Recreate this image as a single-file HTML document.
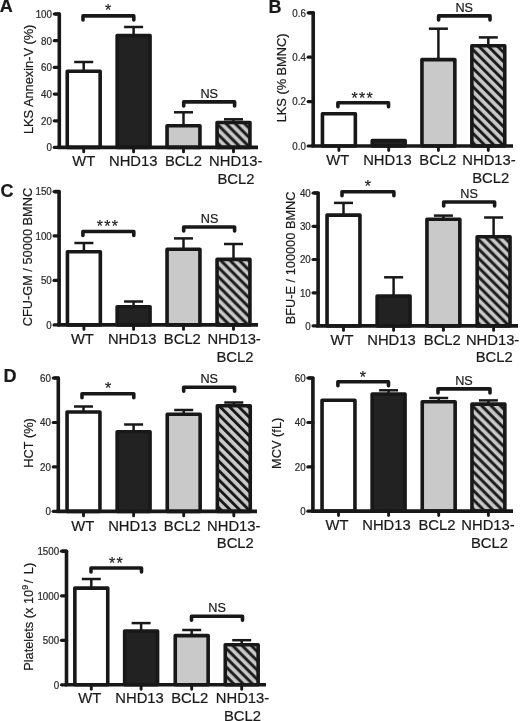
<!DOCTYPE html>
<html><head><meta charset="utf-8"><style>
html,body{margin:0;padding:0;background:#fff;}
svg{display:block;filter:grayscale(1);}
text{font-family:"Liberation Sans",sans-serif;fill:#1a1a1a;stroke:#1a1a1a;stroke-width:0.2px;}
text.t{fill:#2a2a2a;stroke:#2a2a2a;}
</style></head><body>
<svg width="520" height="721" viewBox="0 0 520 721">
<defs>
<pattern id="h1" patternUnits="userSpaceOnUse" width="6.576" height="6.576" patternTransform="rotate(-45)">
<rect width="6.576" height="6.576" fill="#c9c9c9"/><rect x="5.197" y="0" width="2.9" height="6.576" fill="#181818"/><rect x="-1.379" y="0" width="2.9" height="6.576" fill="#181818"/></pattern>
<pattern id="h2" patternUnits="userSpaceOnUse" width="6.576" height="6.576" patternTransform="rotate(-45)">
<rect width="6.576" height="6.576" fill="#c9c9c9"/><rect x="1.979" y="0" width="2.9" height="6.576" fill="#181818"/></pattern>
<pattern id="h3" patternUnits="userSpaceOnUse" width="6.576" height="6.576" patternTransform="rotate(-45)">
<rect width="6.576" height="6.576" fill="#c9c9c9"/><rect x="3.358" y="0" width="2.9" height="6.576" fill="#181818"/></pattern>
<pattern id="h4" patternUnits="userSpaceOnUse" width="6.576" height="6.576" patternTransform="rotate(-45)">
<rect width="6.576" height="6.576" fill="#c9c9c9"/><rect x="3.146" y="0" width="2.9" height="6.576" fill="#181818"/></pattern>
<pattern id="h5" patternUnits="userSpaceOnUse" width="6.576" height="6.576" patternTransform="rotate(-45)">
<rect width="6.576" height="6.576" fill="#c9c9c9"/><rect x="4.702" y="0" width="2.9" height="6.576" fill="#181818"/><rect x="-1.874" y="0" width="2.9" height="6.576" fill="#181818"/></pattern>
<pattern id="h6" patternUnits="userSpaceOnUse" width="6.576" height="6.576" patternTransform="rotate(-45)">
<rect width="6.576" height="6.576" fill="#c9c9c9"/><rect x="6.222" y="0" width="2.9" height="6.576" fill="#181818"/><rect x="-0.354" y="0" width="2.9" height="6.576" fill="#181818"/></pattern>
<pattern id="h7" patternUnits="userSpaceOnUse" width="6.576" height="6.576" patternTransform="rotate(-45)">
<rect width="6.576" height="6.576" fill="#c9c9c9"/><rect x="2.510" y="0" width="2.9" height="6.576" fill="#181818"/></pattern>
</defs>
<rect width="520" height="721" fill="#fff"/>
<path d="M54.80,14.00 H59.30 V147.40" fill="none" stroke="#181818" stroke-width="3.6" stroke-linejoin="round"/>
<line x1="54.30" y1="14.00" x2="59.30" y2="14.00" stroke="#181818" stroke-width="3.24" stroke-linecap="round"/>
<text transform="translate(52.00,17.80) scale(1,1.04)" font-size="9.8" text-anchor="end" class="t">100</text>
<line x1="54.30" y1="40.70" x2="59.30" y2="40.70" stroke="#181818" stroke-width="3.24" stroke-linecap="round"/>
<text transform="translate(52.00,44.50) scale(1,1.04)" font-size="9.8" text-anchor="end" class="t">80</text>
<line x1="54.30" y1="67.40" x2="59.30" y2="67.40" stroke="#181818" stroke-width="3.24" stroke-linecap="round"/>
<text transform="translate(52.00,71.20) scale(1,1.04)" font-size="9.8" text-anchor="end" class="t">60</text>
<line x1="54.30" y1="94.10" x2="59.30" y2="94.10" stroke="#181818" stroke-width="3.24" stroke-linecap="round"/>
<text transform="translate(52.00,97.90) scale(1,1.04)" font-size="9.8" text-anchor="end" class="t">40</text>
<line x1="54.30" y1="120.80" x2="59.30" y2="120.80" stroke="#181818" stroke-width="3.24" stroke-linecap="round"/>
<text transform="translate(52.00,124.60) scale(1,1.04)" font-size="9.8" text-anchor="end" class="t">20</text>
<line x1="54.30" y1="147.40" x2="59.30" y2="147.40" stroke="#181818" stroke-width="3.24" stroke-linecap="round"/>
<text transform="translate(52.00,151.20) scale(1,1.04)" font-size="9.8" text-anchor="end" class="t">0</text>
<line x1="83.70" y1="62.00" x2="83.70" y2="70.50" stroke="#181818" stroke-width="2.5"/>
<line x1="74.20" y1="62.00" x2="93.20" y2="62.00" stroke="#181818" stroke-width="2.5"/>
<rect x="67.25" y="71.30" width="32.90" height="76.10" fill="#ffffff" stroke="#181818" stroke-width="3.6" stroke-linejoin="round"/>
<line x1="133.60" y1="27.00" x2="133.60" y2="34.80" stroke="#181818" stroke-width="2.5"/>
<line x1="124.10" y1="27.00" x2="143.10" y2="27.00" stroke="#181818" stroke-width="2.5"/>
<rect x="117.15" y="35.60" width="32.90" height="111.80" fill="#222222" stroke="#181818" stroke-width="3.6" stroke-linejoin="round"/>
<line x1="183.50" y1="112.30" x2="183.50" y2="125.00" stroke="#181818" stroke-width="2.5"/>
<line x1="174.00" y1="112.30" x2="193.00" y2="112.30" stroke="#181818" stroke-width="2.5"/>
<rect x="167.05" y="125.80" width="32.90" height="21.60" fill="#c9c9c9" stroke="#181818" stroke-width="3.6" stroke-linejoin="round"/>
<line x1="233.50" y1="119.30" x2="233.50" y2="121.70" stroke="#181818" stroke-width="2.5"/>
<line x1="224.00" y1="119.30" x2="243.00" y2="119.30" stroke="#181818" stroke-width="2.5"/>
<rect x="217.05" y="122.50" width="32.90" height="24.90" fill="url(#h1)" stroke="#181818" stroke-width="3.6" stroke-linejoin="round"/>
<line x1="57.50" y1="147.40" x2="258.00" y2="147.40" stroke="#181818" stroke-width="3.6"/>
<line x1="83.70" y1="147.40" x2="83.70" y2="151.90" stroke="#181818" stroke-width="2.88" stroke-linecap="round"/>
<line x1="133.60" y1="147.40" x2="133.60" y2="151.90" stroke="#181818" stroke-width="2.88" stroke-linecap="round"/>
<line x1="183.50" y1="147.40" x2="183.50" y2="151.90" stroke="#181818" stroke-width="2.88" stroke-linecap="round"/>
<line x1="233.50" y1="147.40" x2="233.50" y2="151.90" stroke="#181818" stroke-width="2.88" stroke-linecap="round"/>
<text transform="translate(83.70,166.49) scale(1,1.04)" font-size="14.8" text-anchor="middle">WT</text>
<text transform="translate(133.20,166.49) scale(1,1.04)" font-size="14.8" text-anchor="middle">NHD13</text>
<text transform="translate(183.50,166.49) scale(1,1.04)" font-size="14.8" text-anchor="middle">BCL2</text>
<text transform="translate(235.80,166.49) scale(1,1.04)" font-size="14.8" text-anchor="middle">NHD13-</text>
<text transform="translate(236.00,184.09) scale(1,1.04)" font-size="14.8" text-anchor="middle">BCL2</text>
<path d="M83.00,19.90 V15.90 H133.80 V19.90" fill="none" stroke="#181818" stroke-width="3.6" stroke-linejoin="round" stroke-linecap="round"/>
<text transform="translate(108.00,16.04)" font-size="16.0" text-anchor="middle">*</text>
<path d="M183.70,105.90 V101.90 H234.60 V105.90" fill="none" stroke="#181818" stroke-width="3.6" stroke-linejoin="round" stroke-linecap="round"/>
<text transform="translate(209.20,97.69) scale(1,1.04)" font-size="12.7" text-anchor="middle">NS</text>
<text transform="translate(33.40,79.35) rotate(-90) scale(1,1.04)" font-size="12.8" text-anchor="middle">LKS Annexin-V (%)</text>
<path d="M308.70,12.80 H313.20 V146.00" fill="none" stroke="#181818" stroke-width="3.6" stroke-linejoin="round"/>
<line x1="308.20" y1="12.80" x2="313.20" y2="12.80" stroke="#181818" stroke-width="3.24" stroke-linecap="round"/>
<text transform="translate(305.90,16.60) scale(1,1.04)" font-size="9.8" text-anchor="end" class="t">0.6</text>
<line x1="308.20" y1="57.20" x2="313.20" y2="57.20" stroke="#181818" stroke-width="3.24" stroke-linecap="round"/>
<text transform="translate(305.90,61.00) scale(1,1.04)" font-size="9.8" text-anchor="end" class="t">0.4</text>
<line x1="308.20" y1="101.60" x2="313.20" y2="101.60" stroke="#181818" stroke-width="3.24" stroke-linecap="round"/>
<text transform="translate(305.90,105.40) scale(1,1.04)" font-size="9.8" text-anchor="end" class="t">0.2</text>
<line x1="308.20" y1="146.00" x2="313.20" y2="146.00" stroke="#181818" stroke-width="3.24" stroke-linecap="round"/>
<text transform="translate(305.90,149.80) scale(1,1.04)" font-size="9.8" text-anchor="end" class="t">0.0</text>
<rect x="322.45" y="113.80" width="32.90" height="32.20" fill="#ffffff" stroke="#181818" stroke-width="3.6" stroke-linejoin="round"/>
<rect x="372.25" y="140.50" width="32.90" height="5.50" fill="#222222" stroke="#181818" stroke-width="3.6" stroke-linejoin="round"/>
<line x1="438.40" y1="28.70" x2="438.40" y2="58.80" stroke="#181818" stroke-width="2.5"/>
<line x1="428.90" y1="28.70" x2="447.90" y2="28.70" stroke="#181818" stroke-width="2.5"/>
<rect x="421.95" y="59.60" width="32.90" height="86.40" fill="#c9c9c9" stroke="#181818" stroke-width="3.6" stroke-linejoin="round"/>
<line x1="488.30" y1="37.40" x2="488.30" y2="45.00" stroke="#181818" stroke-width="2.5"/>
<line x1="478.80" y1="37.40" x2="497.80" y2="37.40" stroke="#181818" stroke-width="2.5"/>
<rect x="471.85" y="45.80" width="32.90" height="100.20" fill="url(#h2)" stroke="#181818" stroke-width="3.6" stroke-linejoin="round"/>
<line x1="311.40" y1="146.00" x2="513.00" y2="146.00" stroke="#181818" stroke-width="3.6"/>
<line x1="338.90" y1="146.00" x2="338.90" y2="150.50" stroke="#181818" stroke-width="2.88" stroke-linecap="round"/>
<line x1="388.70" y1="146.00" x2="388.70" y2="150.50" stroke="#181818" stroke-width="2.88" stroke-linecap="round"/>
<line x1="438.40" y1="146.00" x2="438.40" y2="150.50" stroke="#181818" stroke-width="2.88" stroke-linecap="round"/>
<line x1="488.30" y1="146.00" x2="488.30" y2="150.50" stroke="#181818" stroke-width="2.88" stroke-linecap="round"/>
<text transform="translate(337.80,165.39) scale(1,1.04)" font-size="14.8" text-anchor="middle">WT</text>
<text transform="translate(387.40,165.39) scale(1,1.04)" font-size="14.8" text-anchor="middle">NHD13</text>
<text transform="translate(437.85,165.39) scale(1,1.04)" font-size="14.8" text-anchor="middle">BCL2</text>
<text transform="translate(489.00,165.39) scale(1,1.04)" font-size="14.8" text-anchor="middle">NHD13-</text>
<text transform="translate(490.75,182.99) scale(1,1.04)" font-size="14.8" text-anchor="middle">BCL2</text>
<path d="M337.90,106.75 V102.75 H388.50 V106.75" fill="none" stroke="#181818" stroke-width="3.6" stroke-linejoin="round" stroke-linecap="round"/>
<text transform="translate(354.68,103.74)" font-size="16.0" text-anchor="middle">*</text>
<text transform="translate(362.10,103.74)" font-size="16.0" text-anchor="middle">*</text>
<text transform="translate(369.52,103.74)" font-size="16.0" text-anchor="middle">*</text>
<path d="M438.60,19.90 V15.90 H490.00 V19.90" fill="none" stroke="#181818" stroke-width="3.6" stroke-linejoin="round" stroke-linecap="round"/>
<text transform="translate(464.20,12.29) scale(1,1.04)" font-size="12.7" text-anchor="middle">NS</text>
<text transform="translate(286.10,77.90) rotate(-90) scale(1,1.04)" font-size="12.8" text-anchor="middle">LKS (% BMNC)</text>
<path d="M54.60,191.60 H59.10 V324.90" fill="none" stroke="#181818" stroke-width="3.6" stroke-linejoin="round"/>
<line x1="54.10" y1="191.60" x2="59.10" y2="191.60" stroke="#181818" stroke-width="3.24" stroke-linecap="round"/>
<text transform="translate(51.80,195.40) scale(1,1.04)" font-size="9.8" text-anchor="end" class="t">150</text>
<line x1="54.10" y1="235.80" x2="59.10" y2="235.80" stroke="#181818" stroke-width="3.24" stroke-linecap="round"/>
<text transform="translate(51.80,239.60) scale(1,1.04)" font-size="9.8" text-anchor="end" class="t">100</text>
<line x1="54.10" y1="280.40" x2="59.10" y2="280.40" stroke="#181818" stroke-width="3.24" stroke-linecap="round"/>
<text transform="translate(51.80,284.20) scale(1,1.04)" font-size="9.8" text-anchor="end" class="t">50</text>
<line x1="54.10" y1="324.90" x2="59.10" y2="324.90" stroke="#181818" stroke-width="3.24" stroke-linecap="round"/>
<text transform="translate(51.80,328.70) scale(1,1.04)" font-size="9.8" text-anchor="end" class="t">0</text>
<line x1="83.90" y1="243.00" x2="83.90" y2="251.00" stroke="#181818" stroke-width="2.5"/>
<line x1="74.40" y1="243.00" x2="93.40" y2="243.00" stroke="#181818" stroke-width="2.5"/>
<rect x="67.45" y="251.80" width="32.90" height="73.10" fill="#ffffff" stroke="#181818" stroke-width="3.6" stroke-linejoin="round"/>
<line x1="133.60" y1="301.50" x2="133.60" y2="306.00" stroke="#181818" stroke-width="2.5"/>
<line x1="124.10" y1="301.50" x2="143.10" y2="301.50" stroke="#181818" stroke-width="2.5"/>
<rect x="117.15" y="306.80" width="32.90" height="18.10" fill="#222222" stroke="#181818" stroke-width="3.6" stroke-linejoin="round"/>
<line x1="183.50" y1="238.40" x2="183.50" y2="248.40" stroke="#181818" stroke-width="2.5"/>
<line x1="174.00" y1="238.40" x2="193.00" y2="238.40" stroke="#181818" stroke-width="2.5"/>
<rect x="167.05" y="249.20" width="32.90" height="75.70" fill="#c9c9c9" stroke="#181818" stroke-width="3.6" stroke-linejoin="round"/>
<line x1="233.50" y1="244.00" x2="233.50" y2="258.60" stroke="#181818" stroke-width="2.5"/>
<line x1="224.00" y1="244.00" x2="243.00" y2="244.00" stroke="#181818" stroke-width="2.5"/>
<rect x="217.05" y="259.40" width="32.90" height="65.50" fill="url(#h3)" stroke="#181818" stroke-width="3.6" stroke-linejoin="round"/>
<line x1="57.30" y1="324.90" x2="258.00" y2="324.90" stroke="#181818" stroke-width="3.6"/>
<line x1="83.90" y1="324.90" x2="83.90" y2="329.40" stroke="#181818" stroke-width="2.88" stroke-linecap="round"/>
<line x1="133.60" y1="324.90" x2="133.60" y2="329.40" stroke="#181818" stroke-width="2.88" stroke-linecap="round"/>
<line x1="183.50" y1="324.90" x2="183.50" y2="329.40" stroke="#181818" stroke-width="2.88" stroke-linecap="round"/>
<line x1="233.50" y1="324.90" x2="233.50" y2="329.40" stroke="#181818" stroke-width="2.88" stroke-linecap="round"/>
<text transform="translate(82.40,344.29) scale(1,1.04)" font-size="14.8" text-anchor="middle">WT</text>
<text transform="translate(132.15,344.29) scale(1,1.04)" font-size="14.8" text-anchor="middle">NHD13</text>
<text transform="translate(182.35,344.29) scale(1,1.04)" font-size="14.8" text-anchor="middle">BCL2</text>
<text transform="translate(234.10,344.29) scale(1,1.04)" font-size="14.8" text-anchor="middle">NHD13-</text>
<text transform="translate(235.00,361.89) scale(1,1.04)" font-size="14.8" text-anchor="middle">BCL2</text>
<path d="M82.90,235.50 V231.50 H133.80 V235.50" fill="none" stroke="#181818" stroke-width="3.6" stroke-linejoin="round" stroke-linecap="round"/>
<text transform="translate(99.93,232.14)" font-size="16.0" text-anchor="middle">*</text>
<text transform="translate(107.35,232.14)" font-size="16.0" text-anchor="middle">*</text>
<text transform="translate(114.77,232.14)" font-size="16.0" text-anchor="middle">*</text>
<path d="M183.70,231.05 V227.05 H234.60 V231.05" fill="none" stroke="#181818" stroke-width="3.6" stroke-linejoin="round" stroke-linecap="round"/>
<text transform="translate(209.60,222.69) scale(1,1.04)" font-size="12.7" text-anchor="middle">NS</text>
<text transform="translate(31.60,257.05) rotate(-90) scale(1,1.04)" font-size="12.8" text-anchor="middle">CFU-GM / 50000 BMNC</text>
<path d="M313.60,193.00 H318.10 V325.90" fill="none" stroke="#181818" stroke-width="3.6" stroke-linejoin="round"/>
<line x1="313.10" y1="193.00" x2="318.10" y2="193.00" stroke="#181818" stroke-width="3.24" stroke-linecap="round"/>
<text transform="translate(310.80,196.80) scale(1,1.04)" font-size="9.8" text-anchor="end" class="t">40</text>
<line x1="313.10" y1="226.30" x2="318.10" y2="226.30" stroke="#181818" stroke-width="3.24" stroke-linecap="round"/>
<text transform="translate(310.80,230.10) scale(1,1.04)" font-size="9.8" text-anchor="end" class="t">30</text>
<line x1="313.10" y1="259.50" x2="318.10" y2="259.50" stroke="#181818" stroke-width="3.24" stroke-linecap="round"/>
<text transform="translate(310.80,263.30) scale(1,1.04)" font-size="9.8" text-anchor="end" class="t">20</text>
<line x1="313.10" y1="292.80" x2="318.10" y2="292.80" stroke="#181818" stroke-width="3.24" stroke-linecap="round"/>
<text transform="translate(310.80,296.60) scale(1,1.04)" font-size="9.8" text-anchor="end" class="t">10</text>
<line x1="313.10" y1="325.80" x2="318.10" y2="325.80" stroke="#181818" stroke-width="3.24" stroke-linecap="round"/>
<text transform="translate(310.80,329.60) scale(1,1.04)" font-size="9.8" text-anchor="end" class="t">0</text>
<line x1="343.50" y1="202.90" x2="343.50" y2="214.30" stroke="#181818" stroke-width="2.5"/>
<line x1="334.00" y1="202.90" x2="353.00" y2="202.90" stroke="#181818" stroke-width="2.5"/>
<rect x="327.05" y="215.10" width="32.90" height="110.80" fill="#ffffff" stroke="#181818" stroke-width="3.6" stroke-linejoin="round"/>
<line x1="393.60" y1="277.30" x2="393.60" y2="295.30" stroke="#181818" stroke-width="2.5"/>
<line x1="384.10" y1="277.30" x2="403.10" y2="277.30" stroke="#181818" stroke-width="2.5"/>
<rect x="377.15" y="296.10" width="32.90" height="29.80" fill="#222222" stroke="#181818" stroke-width="3.6" stroke-linejoin="round"/>
<line x1="443.40" y1="215.60" x2="443.40" y2="218.40" stroke="#181818" stroke-width="2.5"/>
<line x1="433.90" y1="215.60" x2="452.90" y2="215.60" stroke="#181818" stroke-width="2.5"/>
<rect x="426.95" y="219.20" width="32.90" height="106.70" fill="#c9c9c9" stroke="#181818" stroke-width="3.6" stroke-linejoin="round"/>
<line x1="493.60" y1="217.50" x2="493.60" y2="236.00" stroke="#181818" stroke-width="2.5"/>
<line x1="484.10" y1="217.50" x2="503.10" y2="217.50" stroke="#181818" stroke-width="2.5"/>
<rect x="477.15" y="236.80" width="32.90" height="89.10" fill="url(#h4)" stroke="#181818" stroke-width="3.6" stroke-linejoin="round"/>
<line x1="316.30" y1="325.90" x2="518.00" y2="325.90" stroke="#181818" stroke-width="3.6"/>
<line x1="343.50" y1="325.90" x2="343.50" y2="330.40" stroke="#181818" stroke-width="2.88" stroke-linecap="round"/>
<line x1="393.60" y1="325.90" x2="393.60" y2="330.40" stroke="#181818" stroke-width="2.88" stroke-linecap="round"/>
<line x1="443.40" y1="325.90" x2="443.40" y2="330.40" stroke="#181818" stroke-width="2.88" stroke-linecap="round"/>
<line x1="493.60" y1="325.90" x2="493.60" y2="330.40" stroke="#181818" stroke-width="2.88" stroke-linecap="round"/>
<text transform="translate(342.00,344.59) scale(1,1.04)" font-size="14.8" text-anchor="middle">WT</text>
<text transform="translate(391.50,344.59) scale(1,1.04)" font-size="14.8" text-anchor="middle">NHD13</text>
<text transform="translate(442.30,344.59) scale(1,1.04)" font-size="14.8" text-anchor="middle">BCL2</text>
<text transform="translate(492.60,344.59) scale(1,1.04)" font-size="14.8" text-anchor="middle">NHD13-</text>
<text transform="translate(494.20,362.19) scale(1,1.04)" font-size="14.8" text-anchor="middle">BCL2</text>
<path d="M342.00,195.70 V191.70 H393.90 V195.70" fill="none" stroke="#181818" stroke-width="3.6" stroke-linejoin="round" stroke-linecap="round"/>
<text transform="translate(367.90,191.54)" font-size="16.0" text-anchor="middle">*</text>
<path d="M443.70,206.00 V202.00 H494.60 V206.00" fill="none" stroke="#181818" stroke-width="3.6" stroke-linejoin="round" stroke-linecap="round"/>
<text transform="translate(469.10,198.29) scale(1,1.04)" font-size="12.7" text-anchor="middle">NS</text>
<text transform="translate(294.70,257.90) rotate(-90) scale(1,1.04)" font-size="12.8" text-anchor="middle">BFU-E / 100000 BMNC</text>
<path d="M53.80,378.00 H58.30 V511.40" fill="none" stroke="#181818" stroke-width="3.6" stroke-linejoin="round"/>
<line x1="53.30" y1="378.00" x2="58.30" y2="378.00" stroke="#181818" stroke-width="3.24" stroke-linecap="round"/>
<text transform="translate(51.00,381.80) scale(1,1.04)" font-size="9.8" text-anchor="end" class="t">60</text>
<line x1="53.30" y1="422.50" x2="58.30" y2="422.50" stroke="#181818" stroke-width="3.24" stroke-linecap="round"/>
<text transform="translate(51.00,426.30) scale(1,1.04)" font-size="9.8" text-anchor="end" class="t">40</text>
<line x1="53.30" y1="466.90" x2="58.30" y2="466.90" stroke="#181818" stroke-width="3.24" stroke-linecap="round"/>
<text transform="translate(51.00,470.70) scale(1,1.04)" font-size="9.8" text-anchor="end" class="t">20</text>
<line x1="53.30" y1="511.30" x2="58.30" y2="511.30" stroke="#181818" stroke-width="3.24" stroke-linecap="round"/>
<text transform="translate(51.00,515.10) scale(1,1.04)" font-size="9.8" text-anchor="end" class="t">0</text>
<line x1="83.50" y1="406.50" x2="83.50" y2="411.20" stroke="#181818" stroke-width="2.5"/>
<line x1="74.00" y1="406.50" x2="93.00" y2="406.50" stroke="#181818" stroke-width="2.5"/>
<rect x="67.05" y="412.00" width="32.90" height="99.40" fill="#ffffff" stroke="#181818" stroke-width="3.6" stroke-linejoin="round"/>
<line x1="133.60" y1="424.50" x2="133.60" y2="431.00" stroke="#181818" stroke-width="2.5"/>
<line x1="124.10" y1="424.50" x2="143.10" y2="424.50" stroke="#181818" stroke-width="2.5"/>
<rect x="117.15" y="431.80" width="32.90" height="79.60" fill="#222222" stroke="#181818" stroke-width="3.6" stroke-linejoin="round"/>
<line x1="183.70" y1="410.00" x2="183.70" y2="413.50" stroke="#181818" stroke-width="2.5"/>
<line x1="174.20" y1="410.00" x2="193.20" y2="410.00" stroke="#181818" stroke-width="2.5"/>
<rect x="167.25" y="414.30" width="32.90" height="97.10" fill="#c9c9c9" stroke="#181818" stroke-width="3.6" stroke-linejoin="round"/>
<line x1="233.80" y1="402.50" x2="233.80" y2="405.00" stroke="#181818" stroke-width="2.5"/>
<line x1="224.30" y1="402.50" x2="243.30" y2="402.50" stroke="#181818" stroke-width="2.5"/>
<rect x="217.35" y="405.80" width="32.90" height="105.60" fill="url(#h5)" stroke="#181818" stroke-width="3.6" stroke-linejoin="round"/>
<line x1="56.50" y1="511.40" x2="257.00" y2="511.40" stroke="#181818" stroke-width="3.6"/>
<line x1="83.50" y1="511.40" x2="83.50" y2="515.90" stroke="#181818" stroke-width="2.88" stroke-linecap="round"/>
<line x1="133.60" y1="511.40" x2="133.60" y2="515.90" stroke="#181818" stroke-width="2.88" stroke-linecap="round"/>
<line x1="183.70" y1="511.40" x2="183.70" y2="515.90" stroke="#181818" stroke-width="2.88" stroke-linecap="round"/>
<line x1="233.80" y1="511.40" x2="233.80" y2="515.90" stroke="#181818" stroke-width="2.88" stroke-linecap="round"/>
<text transform="translate(82.70,530.59) scale(1,1.04)" font-size="14.8" text-anchor="middle">WT</text>
<text transform="translate(132.40,530.59) scale(1,1.04)" font-size="14.8" text-anchor="middle">NHD13</text>
<text transform="translate(182.35,530.59) scale(1,1.04)" font-size="14.8" text-anchor="middle">BCL2</text>
<text transform="translate(233.80,530.59) scale(1,1.04)" font-size="14.8" text-anchor="middle">NHD13-</text>
<text transform="translate(235.30,548.19) scale(1,1.04)" font-size="14.8" text-anchor="middle">BCL2</text>
<path d="M82.00,397.80 V393.80 H133.80 V397.80" fill="none" stroke="#181818" stroke-width="3.6" stroke-linejoin="round" stroke-linecap="round"/>
<text transform="translate(108.10,394.04)" font-size="16.0" text-anchor="middle">*</text>
<path d="M183.70,391.20 V387.20 H234.60 V391.20" fill="none" stroke="#181818" stroke-width="3.6" stroke-linejoin="round" stroke-linecap="round"/>
<text transform="translate(209.20,383.49) scale(1,1.04)" font-size="12.7" text-anchor="middle">NS</text>
<text transform="translate(32.90,442.90) rotate(-90) scale(1,1.04)" font-size="12.8" text-anchor="middle">HCT (%)</text>
<path d="M308.40,378.00 H312.90 V511.10" fill="none" stroke="#181818" stroke-width="3.6" stroke-linejoin="round"/>
<line x1="307.90" y1="378.00" x2="312.90" y2="378.00" stroke="#181818" stroke-width="3.24" stroke-linecap="round"/>
<text transform="translate(305.60,381.80) scale(1,1.04)" font-size="9.8" text-anchor="end" class="t">60</text>
<line x1="307.90" y1="422.50" x2="312.90" y2="422.50" stroke="#181818" stroke-width="3.24" stroke-linecap="round"/>
<text transform="translate(305.60,426.30) scale(1,1.04)" font-size="9.8" text-anchor="end" class="t">40</text>
<line x1="307.90" y1="466.90" x2="312.90" y2="466.90" stroke="#181818" stroke-width="3.24" stroke-linecap="round"/>
<text transform="translate(305.60,470.70) scale(1,1.04)" font-size="9.8" text-anchor="end" class="t">20</text>
<line x1="307.90" y1="511.20" x2="312.90" y2="511.20" stroke="#181818" stroke-width="3.24" stroke-linecap="round"/>
<text transform="translate(305.60,515.00) scale(1,1.04)" font-size="9.8" text-anchor="end" class="t">0</text>
<rect x="322.05" y="400.30" width="32.90" height="110.80" fill="#ffffff" stroke="#181818" stroke-width="3.6" stroke-linejoin="round"/>
<line x1="388.60" y1="390.30" x2="388.60" y2="393.30" stroke="#181818" stroke-width="2.5"/>
<line x1="379.10" y1="390.30" x2="398.10" y2="390.30" stroke="#181818" stroke-width="2.5"/>
<rect x="372.15" y="394.10" width="32.90" height="117.00" fill="#222222" stroke="#181818" stroke-width="3.6" stroke-linejoin="round"/>
<line x1="438.70" y1="398.00" x2="438.70" y2="401.00" stroke="#181818" stroke-width="2.5"/>
<line x1="429.20" y1="398.00" x2="448.20" y2="398.00" stroke="#181818" stroke-width="2.5"/>
<rect x="422.25" y="401.80" width="32.90" height="109.30" fill="#c9c9c9" stroke="#181818" stroke-width="3.6" stroke-linejoin="round"/>
<line x1="488.40" y1="400.40" x2="488.40" y2="403.30" stroke="#181818" stroke-width="2.5"/>
<line x1="478.90" y1="400.40" x2="497.90" y2="400.40" stroke="#181818" stroke-width="2.5"/>
<rect x="471.95" y="404.10" width="32.90" height="107.00" fill="url(#h6)" stroke="#181818" stroke-width="3.6" stroke-linejoin="round"/>
<line x1="311.10" y1="511.10" x2="513.00" y2="511.10" stroke="#181818" stroke-width="3.6"/>
<line x1="338.50" y1="511.10" x2="338.50" y2="515.60" stroke="#181818" stroke-width="2.88" stroke-linecap="round"/>
<line x1="388.60" y1="511.10" x2="388.60" y2="515.60" stroke="#181818" stroke-width="2.88" stroke-linecap="round"/>
<line x1="438.70" y1="511.10" x2="438.70" y2="515.60" stroke="#181818" stroke-width="2.88" stroke-linecap="round"/>
<line x1="488.40" y1="511.10" x2="488.40" y2="515.60" stroke="#181818" stroke-width="2.88" stroke-linecap="round"/>
<text transform="translate(337.10,530.19) scale(1,1.04)" font-size="14.8" text-anchor="middle">WT</text>
<text transform="translate(386.50,530.19) scale(1,1.04)" font-size="14.8" text-anchor="middle">NHD13</text>
<text transform="translate(436.90,530.19) scale(1,1.04)" font-size="14.8" text-anchor="middle">BCL2</text>
<text transform="translate(488.00,530.19) scale(1,1.04)" font-size="14.8" text-anchor="middle">NHD13-</text>
<text transform="translate(489.45,547.79) scale(1,1.04)" font-size="14.8" text-anchor="middle">BCL2</text>
<path d="M337.90,385.80 V381.80 H388.50 V385.80" fill="none" stroke="#181818" stroke-width="3.6" stroke-linejoin="round" stroke-linecap="round"/>
<text transform="translate(362.90,382.84)" font-size="16.0" text-anchor="middle">*</text>
<path d="M438.00,392.90 V388.90 H490.00 V392.90" fill="none" stroke="#181818" stroke-width="3.6" stroke-linejoin="round" stroke-linecap="round"/>
<text transform="translate(464.00,384.89) scale(1,1.04)" font-size="12.7" text-anchor="middle">NS</text>
<text transform="translate(280.50,443.30) rotate(-90) scale(1,1.04)" font-size="12.8" text-anchor="middle">MCV (fL)</text>
<path d="M62.00,551.20 H66.50 V684.80" fill="none" stroke="#181818" stroke-width="3.6" stroke-linejoin="round"/>
<line x1="61.50" y1="551.20" x2="66.50" y2="551.20" stroke="#181818" stroke-width="3.24" stroke-linecap="round"/>
<text transform="translate(59.20,555.00) scale(1,1.04)" font-size="9.8" text-anchor="end" class="t">1500</text>
<line x1="61.50" y1="595.80" x2="66.50" y2="595.80" stroke="#181818" stroke-width="3.24" stroke-linecap="round"/>
<text transform="translate(59.20,599.60) scale(1,1.04)" font-size="9.8" text-anchor="end" class="t">1000</text>
<line x1="61.50" y1="640.30" x2="66.50" y2="640.30" stroke="#181818" stroke-width="3.24" stroke-linecap="round"/>
<text transform="translate(59.20,644.10) scale(1,1.04)" font-size="9.8" text-anchor="end" class="t">500</text>
<line x1="61.50" y1="684.80" x2="66.50" y2="684.80" stroke="#181818" stroke-width="3.24" stroke-linecap="round"/>
<text transform="translate(59.20,688.60) scale(1,1.04)" font-size="9.8" text-anchor="end" class="t">0</text>
<line x1="91.30" y1="579.00" x2="91.30" y2="587.30" stroke="#181818" stroke-width="2.5"/>
<line x1="81.80" y1="579.00" x2="100.80" y2="579.00" stroke="#181818" stroke-width="2.5"/>
<rect x="74.85" y="588.10" width="32.90" height="96.70" fill="#ffffff" stroke="#181818" stroke-width="3.6" stroke-linejoin="round"/>
<line x1="141.10" y1="623.10" x2="141.10" y2="630.20" stroke="#181818" stroke-width="2.5"/>
<line x1="131.60" y1="623.10" x2="150.60" y2="623.10" stroke="#181818" stroke-width="2.5"/>
<rect x="124.65" y="631.00" width="32.90" height="53.80" fill="#222222" stroke="#181818" stroke-width="3.6" stroke-linejoin="round"/>
<line x1="191.70" y1="630.00" x2="191.70" y2="634.80" stroke="#181818" stroke-width="2.5"/>
<line x1="182.20" y1="630.00" x2="201.20" y2="630.00" stroke="#181818" stroke-width="2.5"/>
<rect x="175.25" y="635.60" width="32.90" height="49.20" fill="#c9c9c9" stroke="#181818" stroke-width="3.6" stroke-linejoin="round"/>
<line x1="241.70" y1="640.20" x2="241.70" y2="644.00" stroke="#181818" stroke-width="2.5"/>
<line x1="232.20" y1="640.20" x2="251.20" y2="640.20" stroke="#181818" stroke-width="2.5"/>
<rect x="225.25" y="644.80" width="32.90" height="40.00" fill="url(#h7)" stroke="#181818" stroke-width="3.6" stroke-linejoin="round"/>
<line x1="64.70" y1="684.80" x2="266.00" y2="684.80" stroke="#181818" stroke-width="3.6"/>
<line x1="91.30" y1="684.80" x2="91.30" y2="689.30" stroke="#181818" stroke-width="2.88" stroke-linecap="round"/>
<line x1="141.10" y1="684.80" x2="141.10" y2="689.30" stroke="#181818" stroke-width="2.88" stroke-linecap="round"/>
<line x1="191.70" y1="684.80" x2="191.70" y2="689.30" stroke="#181818" stroke-width="2.88" stroke-linecap="round"/>
<line x1="241.70" y1="684.80" x2="241.70" y2="689.30" stroke="#181818" stroke-width="2.88" stroke-linecap="round"/>
<text transform="translate(89.85,703.09) scale(1,1.04)" font-size="14.8" text-anchor="middle">WT</text>
<text transform="translate(139.55,703.09) scale(1,1.04)" font-size="14.8" text-anchor="middle">NHD13</text>
<text transform="translate(189.70,703.09) scale(1,1.04)" font-size="14.8" text-anchor="middle">BCL2</text>
<text transform="translate(242.50,703.09) scale(1,1.04)" font-size="14.8" text-anchor="middle">NHD13-</text>
<text transform="translate(242.50,720.69) scale(1,1.04)" font-size="14.8" text-anchor="middle">BCL2</text>
<path d="M91.00,572.00 V568.00 H141.50 V572.00" fill="none" stroke="#181818" stroke-width="3.6" stroke-linejoin="round" stroke-linecap="round"/>
<text transform="translate(112.19,568.54)" font-size="16.0" text-anchor="middle">*</text>
<text transform="translate(119.61,568.54)" font-size="16.0" text-anchor="middle">*</text>
<path d="M191.50,620.30 V616.30 H242.50 V620.30" fill="none" stroke="#181818" stroke-width="3.6" stroke-linejoin="round" stroke-linecap="round"/>
<text transform="translate(217.10,612.49) scale(1,1.04)" font-size="12.7" text-anchor="middle">NS</text>
<text transform="translate(33.25,616.80) rotate(-90) scale(1,1.04)" font-size="12.8" text-anchor="middle">Platelets (x 10<tspan font-size="9" dy="-5">9</tspan><tspan dy="5" dx="1.5">/</tspan><tspan dx="2.06"> L)</tspan></text>
<text transform="translate(-0.15,12.40)" font-size="18" font-weight="bold">A</text>
<text transform="translate(268.60,12.60)" font-size="18" font-weight="bold">B</text>
<text transform="translate(0.46,196.70)" font-size="18" font-weight="bold">C</text>
<text transform="translate(3.40,382.40)" font-size="18" font-weight="bold">D</text>
</svg>
</body></html>
